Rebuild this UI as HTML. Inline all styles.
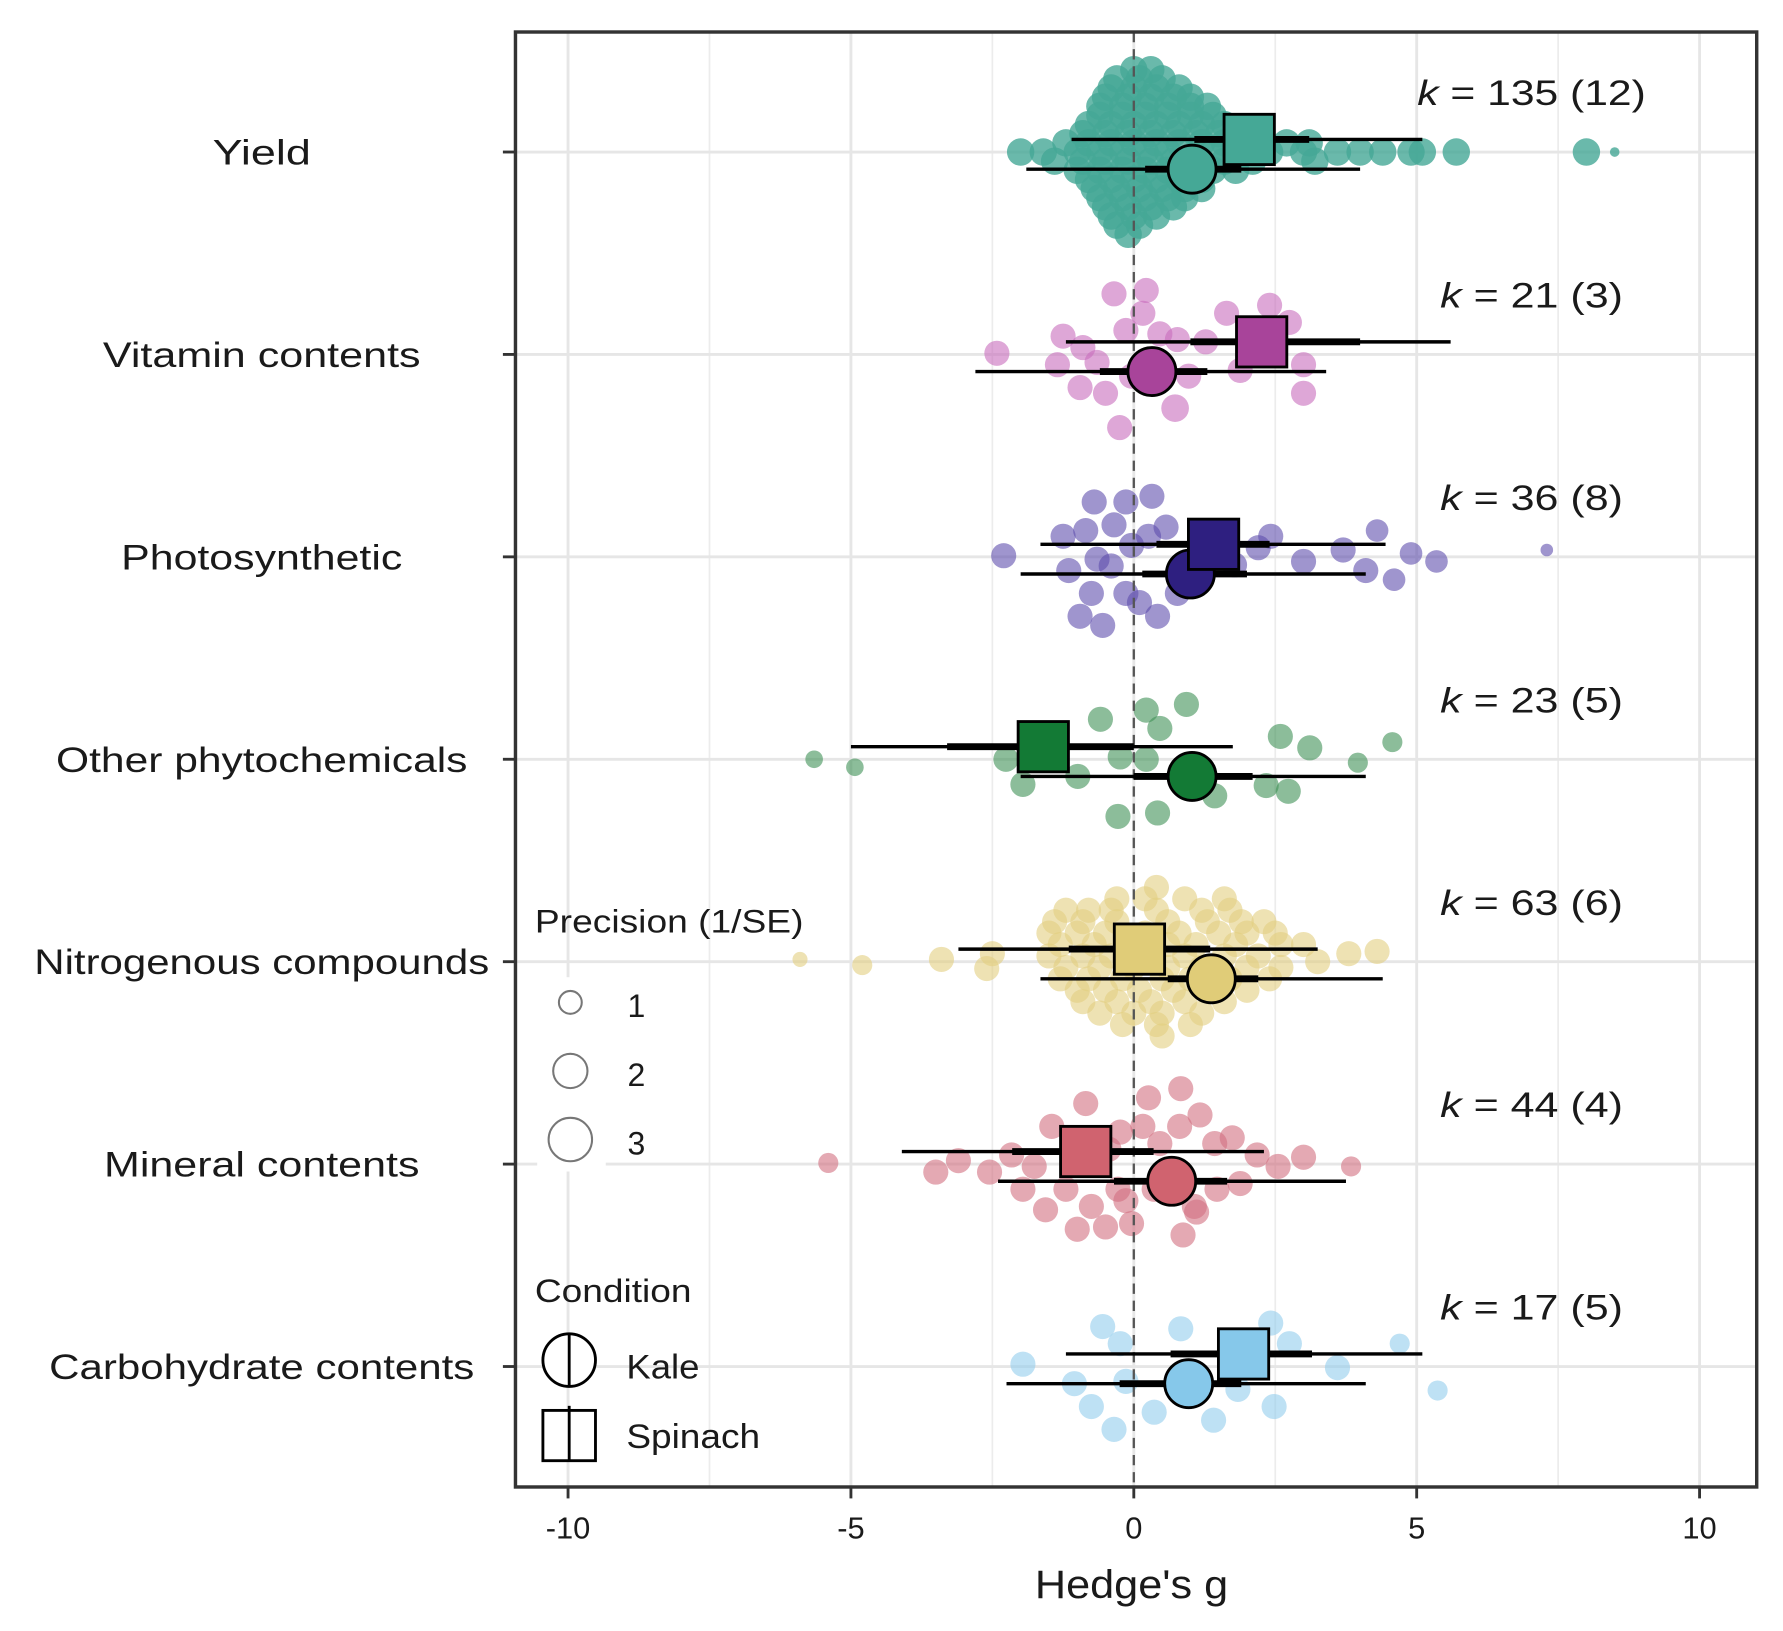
<!DOCTYPE html>
<html><head><meta charset="utf-8"><style>
html,body{margin:0;padding:0;background:#fff;}
svg{display:block;}
text{font-family:"Liberation Sans",sans-serif;fill:#1a1a1a;}
</style></head><body>
<svg id="chart" width="1783" height="1631" viewBox="0 0 1560 1427" xmlns="http://www.w3.org/2000/svg"></svg>
<script>
// ---- data ----
const categories = ["Yield","Vitamin contents","Photosynthetic","Other phytochemicals","Nitrogenous compounds","Mineral contents","Carbohydrate contents"];
const kLabels = ["135 (12)","21 (3)","36 (8)","23 (5)","63 (6)","44 (4)","17 (5)"];
const xTicks = [-10,-5,0,5,10];
const xMinor = [-7.5,-2.5,2.5,7.5];
const pointColors = ["#45a896","#c86cbd","#5f4fae","#3f9157","#e2cf80","#d26f80","#92cdec"];
const summaryColors = ["#45a896","#a8449a","#2e1f80","#137a35","#e0cc78","#d0636f","#86c8ea"];
const spinachEst = [2.04,2.26,1.41,-1.6,0.1,-0.85,1.94];
const spinachCI = [[-1.1,5.1],[-1.2,5.6],[-1.65,4.45],[-5.0,1.75],[-3.1,3.25],[-4.1,2.3],[-1.2,5.1]];
const spinachPI = [[1.07,3.1],[1.0,4.0],[0.4,2.4],[-3.3,0.0],[-1.15,1.35],[-2.15,0.35],[0.65,3.15]];
const kaleEst = [1.03,0.32,1.0,1.03,1.37,0.67,0.97];
const kaleCI = [[-1.9,4.0],[-2.8,3.4],[-2.0,4.1],[-2.0,4.1],[-1.65,4.4],[-2.4,3.75],[-2.25,4.1]];
const kalePI = [[0.2,1.9],[-0.6,1.3],[0.15,2.0],[0.0,2.1],[0.6,2.2],[-0.35,1.65],[-0.25,1.9]];

// raw effect sizes: [g, jitter(display px), precision]
function rows(spec){const o=[];spec.forEach(r=>r[1].forEach(g=>o.push([g,r[0],1])));return o;}
const yieldPts = rows([[-72,[0.0,0.3]],[-64,[-0.3,0.1,0.5]],[-56,[-0.4,0.0,0.4,0.8]],[-48,[-0.5,-0.1,0.3,0.7,1.0]],[-40,[-0.6,-0.2,0.2,0.6,1.0,1.3]],[-32,[-0.6,-0.2,0.2,0.6,1.0,1.4]],[-24,[-0.8,-0.4,0.0,0.4,0.8,1.2,1.6]],[-16,[-0.9,-0.5,-0.1,0.3,0.7,1.1,1.5,2.0]],[-8,[-1.2,-0.8,-0.4,0.0,0.4,0.8,1.2,1.6,2.2,2.7,3.1]],[0,[-2.0,-1.6,-1.0,-0.6,-0.2,0.2,0.6,1.4,1.8,2.4,3.0,3.6,4.0,4.4,4.9,5.1,5.7]],[8,[-1.4,-0.9,-0.5,-0.1,0.3,0.7,1.1,1.6,2.1,3.2]],[16,[-1.0,-0.6,-0.2,0.2,0.6,1.0,1.4,1.8]],[24,[-0.8,-0.4,0.0,0.4,0.8,1.2]],[32,[-0.7,-0.3,0.1,0.5,0.9,1.2]],[40,[-0.6,-0.2,0.2,0.6,0.9]],[48,[-0.5,-0.1,0.3,0.7]],[56,[-0.4,0.0,0.4]],[64,[-0.3,0.1]],[72,[-0.1]]]).concat([[8.0,0,1],[8.5,0,0.35]]);
const vitaminPts = [[-0.35,-53,1],[0.22,-56,1],[0.16,-36,1],[-1.25,-16,1],[-0.9,-6,1],[-0.65,7,1],[-1.35,9,1],[-0.95,29,1],[-0.5,34,1],[-0.25,64,1],[0.73,47,1.1],[0.97,19,1],[1.27,-11,1],[0.77,-13,1],[1.64,-36,1],[2.4,-43,1],[2.75,-28,1],[3.0,9,1],[3.0,34,1],[1.88,14,1],[-2.42,-1,1],[-0.04,19,1],[0.46,-18,1],[-0.14,-21,1]];
const photoPts = [[-2.3,-1,1],[-1.25,-18,1],[-0.7,-48,1],[-0.14,-48,1],[0.32,-53,1],[-0.85,-23,1],[-0.35,-28,1],[0.57,-26,1],[-1.15,12,1],[-0.65,2,1],[-0.04,-10,1],[-0.75,32,1],[-0.14,32,1],[0.42,52,1],[-0.55,60,1],[-0.95,52,1],[1.78,7,1],[2.2,-8,1],[2.42,-18,1],[3.0,4,1],[3.7,-6,1],[4.1,12,1],[4.3,-23,0.9],[4.6,20,0.9],[4.9,-3,0.9],[5.35,4,0.9],[7.3,-6,0.5],[0.77,32,1],[0.26,-18,1],[-0.4,8,1],[0.1,40,1]];
const otherPts = [[-5.65,0,0.7],[-4.93,7,0.7],[-1.96,22,1],[-0.99,15,1],[-0.59,-35,1],[0.22,-43,1],[0.93,-48,1],[0.46,-27,1],[-0.24,-2,1],[0.22,0,1],[-0.28,50,1],[0.42,47,1],[1.43,32,1],[2.34,23,1],[2.73,28,1],[2.59,-20,1],[3.11,-10,1],[3.96,3,0.8],[4.57,-15,0.8],[-2.26,0,1]];
const nitroPts = rows([[-65,[0.4]],[-55,[-0.3,0.2,0.9,1.6]],[-45,[-1.2,-0.8,-0.4,0.4,1.2,1.7]],[-35,[-1.4,-0.9,-0.3,0.6,1.3,1.9,2.3]],[-25,[-1.5,-1.0,-0.5,0.2,0.8,1.5,2.0,2.5]],[-15,[-1.3,-0.7,0.0,0.6,1.1,1.8,2.6,3.0]],[-5,[-1.5,-0.9,-0.4,0.3,0.9,1.6,2.2]],[5,[-1.2,-0.6,0.0,0.6,1.2,2.0,2.6]],[15,[-1.3,-0.8,-0.2,0.5,1.0,1.7,2.4]],[25,[-1.0,-0.5,0.1,0.7,1.3,2.0]],[35,[-0.9,-0.3,0.3,0.9,1.6]],[45,[-0.6,0.0,0.5,1.2]],[55,[-0.2,0.4,1.0]],[65,[0.5]]]).concat([[-5.9,-2,0.6],[-4.8,3,0.8],[-3.4,-2,1],[-2.6,6,1],[-2.5,-7,1],[3.25,0,1],[3.8,-7,1],[4.3,-9,1]]);
const mineralPts = [[-5.4,-1,0.8],[-3.5,7,1],[-3.1,-3,1],[-2.55,7,1],[-2.16,-8,1],[-1.76,2,1],[-1.45,-33,1],[-0.85,-53,1],[-1.2,22,1],[-0.75,37,1],[-0.5,55,1],[-0.14,32,1],[0.16,-33,1],[0.46,-18,1],[0.83,-66,1],[0.81,-33,1],[1.17,-43,1],[1.43,-18,1],[1.74,-23,1],[1.88,17,1],[2.18,-8,1],[2.55,2,1],[3.0,-6,1],[3.84,2,0.8],[0.87,62,1],[1.07,37,1],[-0.28,22,1],[-0.95,-18,1],[-0.44,-13,1],[0.36,22,1],[-1.56,40,1],[-1.0,57,1],[1.47,22,1],[0.26,-58,1],[-0.24,-28,1],[1.11,42,1],[-1.96,22,1],[-0.04,52,1]];
const carbPts = [[-1.96,-2,1],[-0.55,-35,1],[-0.24,-20,1],[-0.75,35,1],[-0.35,55,1],[0.36,40,1],[0.83,-33,1],[1.41,47,1],[1.84,20,1],[2.42,-38,1],[2.75,-20,1],[2.48,35,1],[3.6,1,1],[4.7,-20,0.8],[5.37,21,0.8],[-0.14,13,1],[-1.05,15,1]];
const allPts = [yieldPts,vitaminPts,photoPts,otherPts,nitroPts,mineralPts,carbPts];

// ---- axes ----
const L=451,R=1537,T=28,B=1301;
const x = g => 992 + g*49.5;
const y = i => 133 + i*177.1;
const NS="http://www.w3.org/2000/svg";
const svg=document.getElementById('chart');
function el(tag,attrs,parent){const e=document.createElementNS(NS,tag);for(const k in attrs)e.setAttribute(k,attrs[k]);(parent||svg).appendChild(e);return e;}
function txt(s,attrs,parent){const e=el('text',attrs,parent);e.textContent=s;return e;}
function fit(e,w){e.setAttribute('textLength',w);e.setAttribute('lengthAdjust','spacingAndGlyphs');}

const grid=el('g',{});


xMinor.forEach(v=>el('line',{x1:x(v),x2:x(v),y1:T,y2:B,stroke:'#ececec','stroke-width':1.5},grid));
xTicks.forEach(v=>el('line',{x1:x(v),x2:x(v),y1:T,y2:B,stroke:'#e6e6e6','stroke-width':2.5},grid));
categories.forEach((c,i)=>el('line',{x1:L,x2:R,y1:y(i),y2:y(i),stroke:'#e6e6e6','stroke-width':2.5},grid));

// raw points
allPts.forEach((pts,i)=>{
  const g=el('g',{});
  
  
  pts.forEach(p=>{
    const c=el('circle',{cx:x(p[0]),cy:y(i)+p[1],r:(i===0?12:11)*p[2],fill:pointColors[i],'fill-opacity':i===0?0.8:0.6},g);
    
    
  });
});

// zero line
const zl=el('line',{x1:x(0),x2:x(0),y1:T,y2:B,stroke:'#555','stroke-width':2,'stroke-dasharray':'9,6'});



const kW=[200,160,160,160,160,160,160];
const catW=[86,278,246,360,398,276,372];
// summaries
categories.forEach((c,i)=>{
  const ys=y(i)-11, yk=y(i)+15;
  const g=el('g',{});
  
  
  el('line',{x1:x(spinachCI[i][0]),x2:x(spinachCI[i][1]),y1:ys,y2:ys,stroke:'#000','stroke-width':3},g);
  el('line',{x1:x(spinachPI[i][0]),x2:x(spinachPI[i][1]),y1:ys,y2:ys,stroke:'#000','stroke-width':6},g);
  el('line',{x1:x(kaleCI[i][0]),x2:x(kaleCI[i][1]),y1:yk,y2:yk,stroke:'#000','stroke-width':3},g);
  el('line',{x1:x(kalePI[i][0]),x2:x(kalePI[i][1]),y1:yk,y2:yk,stroke:'#000','stroke-width':6},g);
  const k=el('circle',{cx:x(kaleEst[i]),cy:yk,r:21,fill:summaryColors[i],stroke:'#000','stroke-width':2.5},g);
  
  
  const s=el('rect',{x:x(spinachEst[i])-22,y:ys-22,width:44,height:44,fill:summaryColors[i],stroke:'#000','stroke-width':2.5},g);
  
  
  const kt=txt('',{x:i===0?1240:1260,y:y(i)-41,'font-size':31},g);
  
  
  const it=el('tspan',{'font-style':'italic'},kt);it.textContent='k';
  const rt=el('tspan',{},kt);rt.textContent=' = '+kLabels[i];
  fit(kt,kW[i]);
  const cl=txt(c,{x:229,y:y(i)+11,'font-size':31,'text-anchor':'middle'});
  fit(cl,catW[i]);
  
  
  el('line',{x1:440,x2:L,y1:y(i),y2:y(i),stroke:'#333','stroke-width':2.5});
});

// x axis
xTicks.forEach(v=>{
  el('line',{x1:x(v),x2:x(v),y1:B,y2:B+10,stroke:'#333','stroke-width':2.5});
  const t=txt(String(v),{x:x(v),y:1346,'font-size':27,'text-anchor':'middle',fill:'#4d4d4d'});
  
  
});
const xt=txt("Hedge's g",{x:990,y:1398,'font-size':35,'text-anchor':'middle'});
fit(xt,169);



// legend
const lg=el('g',{});


el('rect',{x:470,y:855,width:60,height:170,fill:'#fff'},lg);
const pt=txt('Precision (1/SE)',{x:468,y:816,'font-size':28},lg);fit(pt,235);
[[877,10,'1'],[937,15,'2'],[997,19,'3']].forEach(a=>{
  el('circle',{cx:499,cy:a[0],r:a[1],fill:'none',stroke:'#777','stroke-width':1.8},lg);
  txt(a[2],{x:549,y:a[0]+13,'font-size':28},lg);
});
const ct=txt('Condition',{x:468,y:1139,'font-size':28},lg);fit(ct,137);
el('circle',{cx:498,cy:1190,r:23,fill:'#fff',stroke:'#000','stroke-width':2.5},lg);
el('line',{x1:498,x2:498,y1:1166,y2:1214,stroke:'#000','stroke-width':2.5},lg);
el('rect',{x:475,y:1234,width:46,height:44,fill:'#fff',stroke:'#000','stroke-width':2.5},lg);
el('line',{x1:498,x2:498,y1:1230,y2:1278,stroke:'#000','stroke-width':2.5},lg);
const kl=txt('Kale',{x:548,y:1206,'font-size':30},lg);fit(kl,64);
const sl=txt('Spinach',{x:548,y:1267,'font-size':30},lg);fit(sl,117);

// panel border
const pb=el('rect',{x:L,y:T,width:R-L,height:B-T,fill:'none',stroke:'#333','stroke-width':3});


</script>
</body></html>
